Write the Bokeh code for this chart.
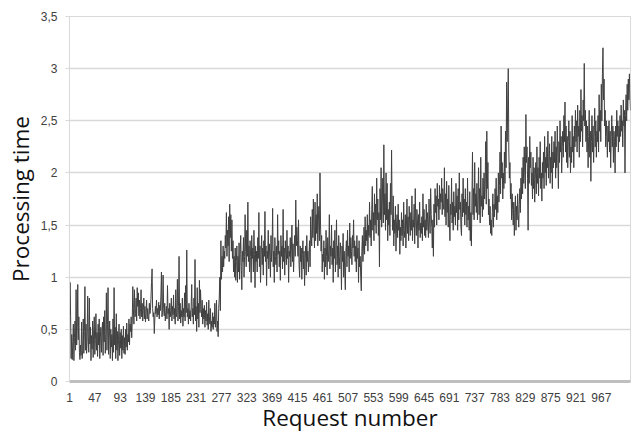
from bokeh.plotting import figure
from bokeh.models import Range1d, FixedTicker, CustomJSTickFormatter
from bokeh.embed import file_html
from bokeh.resources import INLINE

# Processing time per request
processing_time = [
    0.50, 0.95, 0.62, 0.22, 0.45, 0.21, 0.38, 0.55, 0.20, 0.42, 0.58, 0.30, 0.88, 0.35, 0.52, 0.93, 0.40, 0.62, 0.28, 0.21,
    0.35, 0.25, 0.57, 0.22, 0.30, 0.60, 0.27, 0.48, 0.91, 0.30, 0.55, 0.27, 0.38, 0.82, 0.45, 0.28, 0.80, 0.36, 0.52, 0.20,
    0.44, 0.31, 0.58, 0.23, 0.50, 0.62, 0.26, 0.40, 0.65, 0.30, 0.47, 0.24, 0.55, 0.35, 0.60, 0.22, 0.42, 0.52, 0.28, 0.48,
    0.57, 0.25, 0.62, 0.38, 0.68, 0.27, 0.45, 0.85, 0.30, 0.55, 0.90, 0.26, 0.42, 0.58, 0.22, 0.50, 0.33, 0.45, 0.20, 0.60,
    0.28, 0.90, 0.35, 0.52, 0.22, 0.65, 0.30, 0.48, 0.20, 0.40, 0.55, 0.25, 0.47, 0.32, 0.50, 0.22, 0.44, 0.30, 0.53, 0.27,
    0.42, 0.26, 0.50, 0.33, 0.56, 0.30, 0.45, 0.38, 0.60, 0.35, 0.55, 0.48, 0.62, 0.42, 0.58, 0.91, 0.70, 0.55, 0.88, 0.62,
    0.65, 0.80, 0.58, 0.90, 0.72, 0.85, 0.63, 0.78, 0.60, 0.70, 0.88, 0.62, 0.75, 0.58, 0.68, 0.80, 0.60, 0.72, 0.57, 0.66,
    0.78, 0.60, 0.70, 0.62, 0.58, 0.75, 0.65, 0.68, 0.80, 0.95, 1.08, 0.70, 0.62, 0.66, 0.46, 0.60, 0.72, 0.65, 0.78, 0.62,
    0.70, 0.64, 0.76, 0.60, 0.73, 0.68, 0.82, 1.05, 0.62, 0.68, 1.02, 0.70, 0.63, 0.75, 0.58, 0.66, 0.72, 0.60, 0.92, 0.65,
    0.70, 0.50, 0.75, 0.62, 0.68, 0.80, 0.58, 0.72, 0.64, 0.83, 0.60, 0.70, 0.55, 0.88, 0.62, 0.66, 0.98, 0.58, 0.72, 1.20,
    0.60, 0.75, 0.56, 0.68, 0.62, 0.80, 0.53, 0.70, 0.62, 0.85, 0.58, 0.92, 0.66, 1.26, 0.62, 0.70, 0.55, 0.75, 0.60, 0.68,
    0.58, 0.72, 0.93, 0.62, 0.70, 0.55, 0.80, 0.64, 1.17, 0.58, 0.72, 0.48, 0.90, 0.60, 0.75, 0.52, 0.97, 0.66, 0.88, 0.70,
    0.62, 0.78, 0.55, 0.70, 0.60, 0.73, 0.52, 0.68, 0.58, 0.76, 0.54, 0.65, 0.50, 0.78, 0.62, 0.55, 0.70, 0.48, 0.58, 0.52,
    0.66, 0.50, 0.62, 0.55, 0.75, 0.52, 0.60, 0.78, 0.48, 0.58, 0.43, 0.70, 0.80, 1.00, 0.68, 1.35, 0.98, 1.20, 1.05, 1.30,
    1.10, 1.25, 1.18, 1.40, 1.28, 1.62, 1.20, 1.45, 1.30, 1.58, 1.15, 1.70, 1.38, 1.60, 1.25, 1.55, 1.18, 1.35, 1.05, 1.20,
    1.00, 1.28, 0.97, 1.15, 1.30, 0.95, 1.20, 1.05, 1.33, 0.98, 1.22, 1.40, 1.10, 0.88, 1.25, 1.15, 1.38, 1.00, 1.20, 1.60,
    1.25, 1.10, 1.45, 1.20, 1.72, 1.15, 1.30, 1.05, 1.35, 1.20, 0.95, 1.40, 1.18, 1.28, 1.05, 1.45, 1.22, 0.90, 1.30, 1.15,
    1.25, 1.05, 1.38, 1.18, 1.62, 1.10, 1.30, 0.95, 1.22, 1.40, 1.12, 1.28, 1.02, 1.35, 1.20, 1.63, 1.15, 1.30, 0.92, 1.25,
    1.18, 1.45, 1.08, 1.32, 1.20, 1.00, 1.40, 1.15, 1.28, 1.66, 1.10, 1.25, 0.95, 1.38, 1.20, 1.12, 1.30, 1.05, 1.60, 1.22,
    1.35, 1.10, 1.25, 0.97, 1.40, 1.20, 1.30, 1.08, 1.65, 1.15, 1.28, 1.02, 1.35, 1.22, 1.12, 1.45, 1.18, 1.30, 0.95, 1.25,
    1.20, 1.38, 1.10, 1.27, 1.50, 1.15, 1.32, 1.05, 1.25, 1.40, 1.20, 1.74, 1.30, 1.48, 1.35, 1.20, 1.55, 1.12, 1.00, 1.30,
    1.15, 1.28, 0.98, 1.22, 1.35, 1.08, 1.25, 0.92, 1.18, 1.30, 1.02, 1.40, 1.15, 1.25, 1.05, 1.20, 1.35, 1.10, 1.58, 1.40,
    1.30, 1.65, 1.38, 1.75, 1.45, 1.28, 1.72, 1.35, 1.60, 1.42, 1.80, 1.30, 1.55, 1.68, 1.35, 2.00, 1.50, 1.25, 1.40, 1.05,
    1.22, 1.15, 1.35, 0.98, 1.28, 1.10, 1.45, 1.20, 1.02, 1.38, 1.15, 1.25, 1.60, 1.08, 1.30, 1.20, 1.50, 1.12, 1.28, 0.95,
    1.35, 1.18, 1.45, 1.05, 1.25, 1.55, 1.12, 1.30, 1.00, 1.40, 1.20, 1.08, 1.33, 1.22, 0.88, 1.30, 1.15, 1.42, 1.00, 1.25,
    1.05, 0.88, 1.25, 1.35, 1.10, 1.45, 1.20, 1.30, 1.05, 1.52, 1.18, 1.38, 1.25, 1.12, 1.40, 1.28, 1.55, 1.20, 1.35, 1.15,
    1.30, 1.05, 1.40, 1.18, 1.28, 0.95, 1.35, 1.10, 1.20, 1.00, 0.87, 1.25, 1.40, 1.15, 1.30, 1.48, 1.22, 1.58, 1.30, 1.45,
    1.35, 1.60, 1.25, 1.50, 1.40, 1.72, 1.38, 1.55, 1.30, 1.65, 1.87, 1.45, 1.62, 1.35, 1.80, 1.50, 1.70, 1.42, 1.95, 1.55,
    1.75, 1.40, 1.62, 1.10, 1.85, 1.55, 2.05, 1.48, 1.70, 1.95, 1.52, 2.27, 1.60, 1.80, 1.45, 2.00, 1.55, 1.90, 1.35, 1.65,
    1.50, 1.72, 1.40, 1.90, 1.60, 2.22, 1.65, 1.45, 1.78, 1.30, 1.55, 1.42, 1.68, 1.25, 1.50, 1.60, 1.38, 1.70, 1.45, 1.55,
    1.22, 1.48, 1.35, 1.62, 1.40, 1.55, 1.30, 1.72, 1.45, 1.38, 1.60, 1.28, 1.50, 1.75, 1.42, 1.58, 1.35, 1.68, 1.50, 1.40,
    1.62, 1.45, 1.78, 1.35, 1.55, 1.48, 1.70, 1.32, 1.85, 1.50, 1.40, 1.65, 1.55, 1.28, 1.60, 1.45, 1.72, 1.38, 1.52, 1.42,
    1.58, 1.35, 1.80, 1.48, 1.65, 1.40, 1.55, 1.38, 1.70, 1.45, 1.62, 1.50, 1.38, 1.75, 1.55, 1.42, 1.85, 1.60, 1.48, 1.28,
    1.55, 1.20, 1.70, 1.48, 1.85, 1.62, 1.78, 1.50, 1.90, 1.68, 1.75, 1.55, 1.88, 1.65, 1.80, 1.72, 1.95, 1.60, 1.85, 1.70,
    1.65, 2.05, 1.58, 1.80, 1.50, 1.92, 1.62, 1.75, 1.48, 1.88, 1.55, 1.35, 1.70, 1.60, 1.95, 1.52, 1.72, 1.45, 1.82, 1.58,
    1.68, 1.50, 1.90, 1.62, 1.78, 1.45, 1.85, 1.55, 2.00, 1.65, 1.72, 1.48, 1.40, 1.80, 1.58, 1.95, 1.62, 1.75, 1.50, 1.85,
    1.60, 1.72, 1.48, 1.95, 1.55, 1.68, 1.45, 1.82, 1.35, 1.62, 1.30, 1.75, 2.20, 1.60, 1.85, 1.55, 2.10, 1.68, 1.80, 1.62,
    1.90, 1.55, 1.75, 2.05, 1.60, 1.85, 1.52, 2.15, 1.68, 1.78, 1.58, 1.95, 1.65, 2.00, 1.75, 1.90, 2.30, 1.70, 2.40, 1.85,
    2.10, 1.60, 1.75, 1.50, 1.68, 1.42, 1.55, 1.40, 1.62, 1.80, 1.48, 1.70, 1.58, 1.85, 1.65, 1.95, 1.55, 1.78, 1.62, 2.00,
    1.72, 1.88, 2.20, 1.80, 2.45, 1.95, 2.10, 1.75, 2.00, 1.85, 2.20, 1.90, 2.40, 2.05, 2.87, 2.30, 2.65, 3.00, 2.20, 1.95,
    2.10, 1.75, 1.90, 1.55, 1.80, 1.65, 1.50, 1.72, 1.40, 1.62, 1.78, 1.45, 1.68, 1.55, 1.80, 1.60, 1.48, 1.70, 1.85, 1.62,
    1.95, 1.75, 2.05, 1.80, 2.15, 1.90, 2.25, 2.00, 1.85, 2.56, 2.10, 2.25, 1.95, 1.45, 2.15, 1.90, 2.35, 2.05, 2.20, 1.88,
    2.00, 1.75, 2.15, 1.85, 2.05, 1.72, 1.95, 2.10, 1.80, 2.25, 1.90, 2.05, 1.78, 2.15, 1.95, 2.30, 1.85, 2.00, 1.73, 2.10,
    1.95, 2.20, 1.85, 2.35, 2.00, 2.15, 1.88, 2.25, 2.05, 2.40, 1.95, 2.10, 2.28, 1.90, 2.15, 2.00, 2.35, 1.85, 2.20, 2.05,
    2.30, 2.10, 2.40, 1.95, 2.25, 2.05, 2.45, 2.15, 1.85, 2.30, 2.10, 2.50, 2.20, 2.35, 2.00, 2.25, 2.40, 2.15, 2.55, 2.30,
    2.68, 2.20, 2.45, 2.10, 2.35, 2.05, 2.30, 2.50, 2.15, 2.40, 2.00, 2.25, 2.10, 2.55, 2.20, 2.35, 2.05, 2.45, 2.25, 2.60,
    2.30, 2.50, 2.20, 2.65, 2.35, 2.45, 2.15, 2.60, 2.30, 2.80, 2.40, 2.55, 2.25, 2.70, 2.50, 3.05, 2.45, 2.60, 2.30, 2.50,
    2.20, 2.45, 2.05, 2.35, 2.60, 2.15, 2.40, 1.92, 2.30, 2.55, 2.20, 2.45, 2.10, 2.35, 2.62, 2.25, 2.50, 2.15, 2.40, 2.30,
    2.55, 2.20, 2.75, 2.40, 2.60, 2.30, 2.85, 2.50, 2.95, 3.20, 2.70, 2.90, 2.45, 2.60, 2.25, 2.50, 2.35, 2.15, 2.45, 2.30,
    2.50, 2.20, 2.40, 2.05, 2.35, 2.55, 2.25, 2.45, 2.10, 2.40, 2.30, 2.00, 2.45, 2.25, 2.60, 2.35, 2.50, 2.20, 2.45, 2.30,
    2.55, 2.35, 2.65, 2.40, 2.50, 2.25, 2.70, 2.45, 2.60, 2.00, 2.55, 2.75, 2.50, 2.85, 2.60, 2.90, 2.70, 2.95, 2.75, 2.60,
]
request_number = list(range(1, len(processing_time) + 1))

x_tick_values = [1, 47, 93, 139, 185, 231, 277, 323, 369, 415, 461, 507, 553, 599, 645,
                 691, 737, 783, 829, 875, 921, 967]
y_tick_values = [0, 0.5, 1, 1.5, 2, 2.5, 3, 3.5]

GRID = "#d9d9d9"

p = figure(width=633, height=435, output_backend="svg", toolbar_location=None,
           x_range=Range1d(1, len(processing_time)), y_range=Range1d(0, 3.5),
           min_border_left=69, min_border_right=3, min_border_top=16, min_border_bottom=54,
           background_fill_color="white", border_fill_color="white")
p.outline_line_color = GRID
p.outline_line_width = 1

p.line(request_number, processing_time, line_color="#404040", line_width=1)

# x axis
p.xaxis.ticker = FixedTicker(ticks=x_tick_values)
p.xaxis.axis_line_color = "#bfbfbf"
p.xaxis.axis_line_width = 3
p.xaxis.major_tick_line_color = None
p.xaxis.minor_tick_line_color = None
p.xaxis.major_label_text_font = "Liberation Sans"
p.xaxis.major_label_text_font_size = "12px"
p.xaxis.major_label_text_color = "#404040"
p.xaxis.major_label_standoff = 5
p.xaxis.axis_label = "Request number"
p.xaxis.axis_label_text_font = "Open Sans"
p.xaxis.axis_label_text_font_size = "22.5px"
p.xaxis.axis_label_text_font_style = "normal"
p.xaxis.axis_label_text_color = "#111111"
p.xaxis.axis_label_standoff = -3

# y axis
p.yaxis.ticker = FixedTicker(ticks=y_tick_values)
p.yaxis.formatter = CustomJSTickFormatter(code="return tick.toString().replace('.', ',')")
p.yaxis.axis_line_color = GRID
p.yaxis.major_tick_out = 4
p.yaxis.major_tick_in = 0
p.yaxis.major_tick_line_color = GRID
p.yaxis.minor_tick_line_color = None
p.yaxis.major_label_text_font = "Liberation Sans"
p.yaxis.major_label_text_font_size = "12px"
p.yaxis.major_label_text_color = "#404040"
p.yaxis.major_label_standoff = 8
p.yaxis.axis_label = "Processing time"
p.yaxis.axis_label_text_font = "Open Sans"
p.yaxis.axis_label_text_font_size = "22.5px"
p.yaxis.axis_label_text_font_style = "normal"
p.yaxis.axis_label_text_color = "#111111"
p.yaxis.axis_label_standoff = 2

p.xgrid.grid_line_color = None
p.ygrid.ticker = FixedTicker(ticks=y_tick_values)
p.ygrid.grid_line_color = GRID
p.ygrid.grid_line_width = 1.5

open("out.html", "w").write(file_html(p, INLINE))
